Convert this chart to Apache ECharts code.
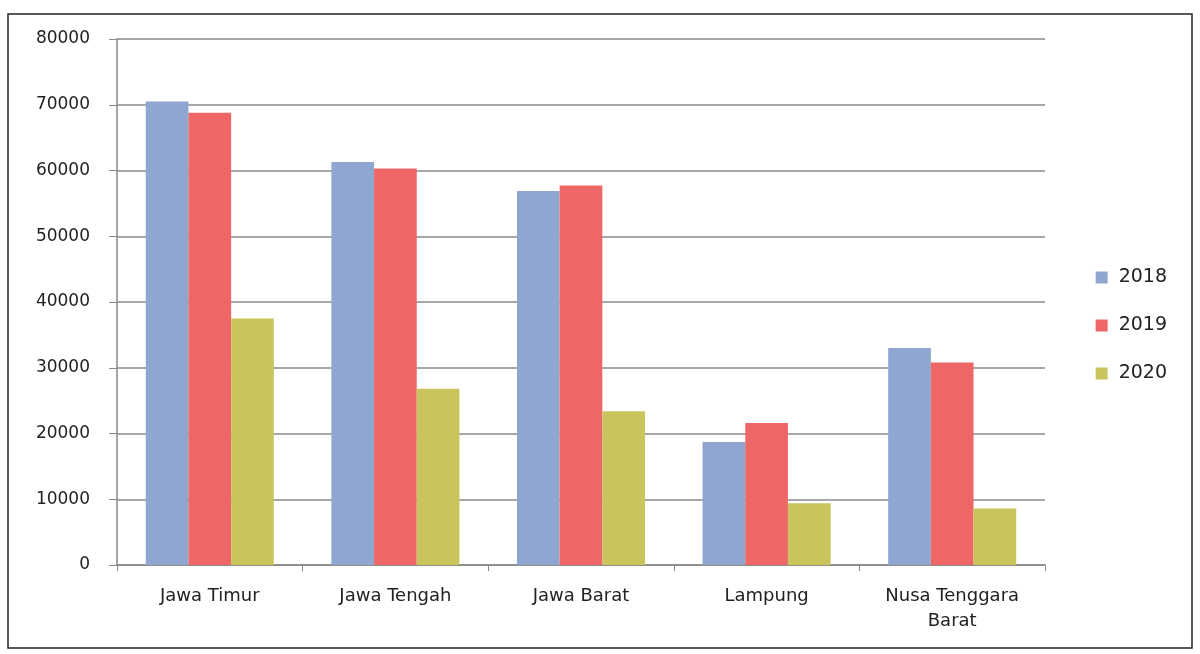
<!DOCTYPE html>
<html><head><meta charset="utf-8">
<script src="https://cdn.jsdelivr.net/npm/echarts@6/dist/echarts.min.js"></script>
<style>html,body{margin:0;padding:0;background:#fff}#c{width:1200px;height:654px}</style>
</head><body><div id="c"></div>
<script>
const categories = ['Jawa Timur', 'Jawa Tengah', 'Jawa Barat', 'Lampung', 'Nusa Tenggara\nBarat'];
const seriesNames = ['2018', '2019', '2020'];
const values2018 = [70500, 61300, 56900, 18700, 33000];
const values2019 = [68800, 60300, 57700, 21600, 30800];
const values2020 = [37500, 26800, 23400, 9400, 8600];
const yTicks = [0, 10000, 20000, 30000, 40000, 50000, 60000, 70000, 80000];

const colors = ['#8EA6D0', '#EF6667', '#C9C45C'];
const chart = echarts.init(document.getElementById('c'));
const font = 'DejaVu Sans';
chart.setOption({
  animation: false,
  color: colors,
  graphic: [{type: 'rect', shape: {x: 8, y: 14, width: 1184, height: 634},
    style: {fill: 'none', stroke: '#222', lineWidth: 1.5}}],
  grid: {left: 117, right: 155, top: 39, bottom: 89},
  legend: {
    orient: 'vertical', right: 28, top: 263, itemWidth: 12, itemHeight: 12, itemGap: 29,
    icon: 'rect', data: seriesNames,
    textStyle: {fontFamily: font, fontSize: 19, color: '#222', padding: [0, 0, 0, 6]}
  },
  xAxis: {
    type: 'category', data: categories,
    axisLine: {lineStyle: {color: '#888', width: 1.5}},
    axisTick: {show: true, length: 6, lineStyle: {color: '#888'}},
    axisLabel: {fontFamily: font, fontSize: 18, color: '#222', margin: 19, lineHeight: 25}
  },
  yAxis: {
    type: 'value', min: yTicks[0], max: yTicks[yTicks.length - 1], interval: 10000,
    axisLine: {show: true, lineStyle: {color: '#888', width: 1.5}},
    axisTick: {show: true, length: 8, lineStyle: {color: '#888'}},
    splitLine: {lineStyle: {color: '#8a8a8a', width: 1.5}},
    axisLabel: {fontFamily: font, fontSize: 17, color: '#222', margin: 27,
      formatter: v => String(v)}
  },
  series: [
    {name: seriesNames[0], type: 'bar', data: values2018, barGap: '0%', barCategoryGap: '31%'},
    {name: seriesNames[1], type: 'bar', data: values2019, barGap: '0%', barCategoryGap: '31%'},
    {name: seriesNames[2], type: 'bar', data: values2020, barGap: '0%', barCategoryGap: '31%'}
  ]
});
</script></body></html>
